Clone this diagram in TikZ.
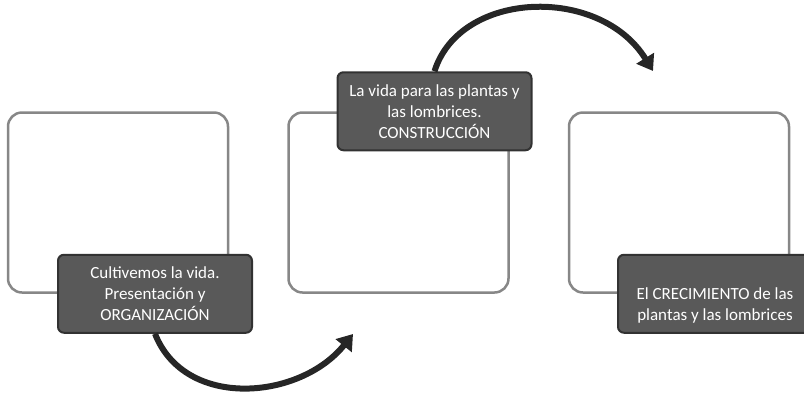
\documentclass[tikz,border=0pt]{standalone}
\usepackage{fontspec}
\setmainfont{Carlito}
\usetikzlibrary{positioning,arrows.meta}
\definecolor{framegray}{RGB}{135,135,135}
\definecolor{stagefill}{RGB}{89,89,89}
\definecolor{stageline}{RGB}{50,50,50}
\definecolor{arrowdark}{RGB}{38,38,38}

\begin{document}
\begin{tikzpicture}[x=1pt,y=-1pt,node distance=58pt,
	frame box/.style = {draw=framegray, line width=2.5pt, fill=white, rounded corners=14pt, minimum width=220pt, minimum height=180pt},
	stage box/.style = {draw=stageline, line width=2pt, fill=stagefill, rounded corners=6pt, minimum width=194pt, minimum height=78pt, text=white, align=center, font=\fontsize{17}{21}\selectfont},
	turn arrow/.style = {draw=arrowdark, line width=6pt, -{Triangle[length=15pt,width=20pt]}}]
	
	\useasboundingbox (0,0) rectangle (804,392);
	
	\node[frame box] (w1) at (118,202.5) {};
	\node[frame box] [right=of w1] (w2) {};
	\node[frame box] [right=of w2] (w3) {};
	
	\node[stage box] (c1) at ([xshift=37pt]w1.south) {Cultivemos la vida.\\ Presentación y\\ ORGANIZACIÓN};
	\node[stage box] (c2) at ([xshift=36pt]w2.north) {La vida para las plantas y\\ las lombrices.\\ CONSTRUCCIÓN};
	\node[stage box] (c3) at ([xshift=36pt]w3.south) {\rule{0pt}{36pt}El CRECIMIENTO de las\\ plantas y las lombrices};
	
	\coordinate (a1) at (353,334);
	\coordinate (a2) at (653,71);
	
	\draw[turn arrow] (c1.south) .. controls (185,410) and (300,400) .. (a1);
	\draw[turn arrow] (c2.north) .. controls (460,-10) and (600,-15) .. (a2);
	
\end{tikzpicture}
\end{document}
